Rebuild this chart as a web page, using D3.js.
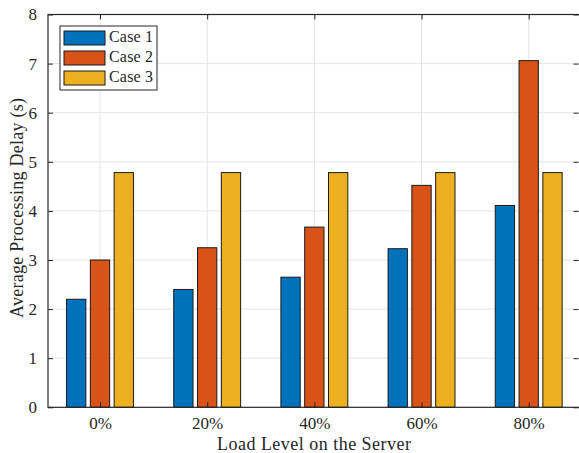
<!DOCTYPE html>
<html>
<head>
<meta charset="utf-8">
<script src="https://cdn.jsdelivr.net/npm/d3@7"></script>
<style>
  html, body { margin: 0; padding: 0; background: #fff; }
  svg text { font-family: "Liberation Serif", "DejaVu Serif", serif; fill: #262626; }
</style>
</head>
<body>
<svg id="chart" width="579" height="453"></svg>
<script>
// Load levels on the x axis
const categories = ["0%", "20%", "40%", "60%", "80%"];
// Average processing delay (s) for each case
const seriesNames = ["Case 1", "Case 2", "Case 3"];
const case1 = [2.20, 2.40, 2.65, 3.23, 4.11];
const case2 = [3.00, 3.25, 3.67, 4.52, 7.06];
const case3 = [4.78, 4.78, 4.78, 4.78, 4.78];
const yTicks = [0, 1, 2, 3, 4, 5, 6, 7, 8];
const colors = ["#0072BD", "#D95319", "#EDB120"];

const series = [case1, case2, case3];
const svg = d3.select("#chart");

const plot = { left: 48, right: 579, top: 14.5, bottom: 407.3 };

// category positions along x (1..N)
const x = d3.scaleLinear().domain([1, 5]).range([100, 528.7]);
const y = d3.scaleLinear().domain([0, 8]).range([plot.bottom, plot.top]);

const barW = 19.3;
const offset = 23.8;

// grid
const grid = svg.append("g");
grid.selectAll("line.gy").data(yTicks.slice(1, -1)).join("line")
  .attr("x1", plot.left).attr("x2", plot.right)
  .attr("y1", d => y(d)).attr("y2", d => y(d))
  .attr("stroke", "#e5e5e5").attr("stroke-width", 1);
grid.selectAll("line.gx").data(categories).join("line")
  .attr("x1", (d, i) => x(i + 1)).attr("x2", (d, i) => x(i + 1))
  .attr("y1", plot.top).attr("y2", plot.bottom)
  .attr("stroke", "#e5e5e5").attr("stroke-width", 1);

// bars
series.forEach((vals, s) => {
  svg.append("g").selectAll("rect").data(vals).join("rect")
    .attr("x", (d, i) => x(i + 1) + (s - 1) * offset - barW / 2)
    .attr("width", barW)
    .attr("y", d => y(d))
    .attr("height", d => y(0) - y(d))
    .attr("fill", colors[s])
    .attr("stroke", "#1a1a1a")
    .attr("stroke-width", 1);
});

// axes (box with inward ticks)
const yAxisL = d3.axisLeft(y).tickValues(yTicks).tickSizeInner(-5).tickSizeOuter(0).tickPadding(11).tickFormat(d3.format("d"));
const gL = svg.append("g").attr("transform", `translate(${plot.left},0)`).call(yAxisL);
const yAxisR = d3.axisRight(y).tickValues(yTicks).tickSizeInner(-5).tickSizeOuter(0).tickFormat("");
const gR = svg.append("g").attr("transform", `translate(${plot.right - 0.5},0)`).call(yAxisR);

const xAxisB = d3.axisBottom(x).tickValues([1, 2, 3, 4, 5]).tickSizeInner(-5).tickSizeOuter(0).tickPadding(10)
  .tickFormat((d) => categories[d - 1]);
const gB = svg.append("g").attr("transform", `translate(0,${plot.bottom})`).call(xAxisB);
const xAxisT = d3.axisTop(x).tickValues([1, 2, 3, 4, 5]).tickSizeInner(-5).tickSizeOuter(0).tickFormat("");
const gT = svg.append("g").attr("transform", `translate(0,${plot.top})`).call(xAxisT);

[gL, gR, gB, gT].forEach(g => {
  g.select(".domain").remove();
  g.selectAll(".tick line").attr("stroke", "#262626");
  g.selectAll("text").style("font-size", "17px").attr("fill", "#262626");
});

// axis box lines
svg.append("rect")
  .attr("x", plot.left).attr("y", plot.top)
  .attr("width", plot.right - plot.left + 2).attr("height", plot.bottom - plot.top)
  .attr("fill", "none").attr("stroke", "#262626").attr("stroke-width", 1.2);

// axis titles
svg.append("text")
  .attr("x", 314).attr("y", 449.5)
  .attr("text-anchor", "middle").style("font-size", "18px")
  .attr("textLength", 194).attr("lengthAdjust", "spacing")
  .text("Load Level on the Server");
svg.append("text")
  .attr("transform", "translate(22.5,208) rotate(-90)")
  .attr("text-anchor", "middle").style("font-size", "18px")
  .attr("textLength", 220).attr("lengthAdjust", "spacing")
  .text("Average Processing Delay (s)");

// legend
const lg = svg.append("g").attr("transform", "translate(60,26)");
lg.append("rect").attr("width", 97).attr("height", 64)
  .attr("fill", "#fff").attr("stroke", "#262626").attr("stroke-width", 1);
seriesNames.forEach((name, i) => {
  lg.append("rect").attr("x", 4).attr("y", 5 + i * 20).attr("width", 41).attr("height", 14)
    .attr("fill", colors[i]).attr("stroke", "#1a1a1a").attr("stroke-width", 1);
  lg.append("text").attr("x", 49).attr("y", 16 + i * 20)
    .style("font-size", "16px")
    .attr("textLength", 44).attr("lengthAdjust", "spacing")
    .text(name);
});
</script>
</body>
</html>
